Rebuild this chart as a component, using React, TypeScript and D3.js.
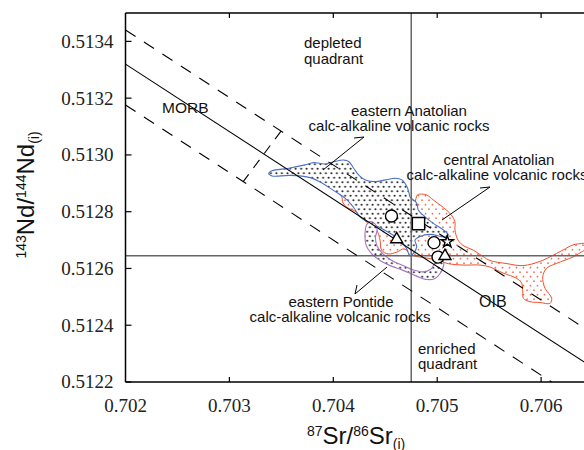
import React from "react";
import * as d3 from "d3";

// axis ticks
const srTicks = [0.702, 0.703, 0.704, 0.705, 0.706];
const ndTicks = [0.5122, 0.5124, 0.5126, 0.5128, 0.513, 0.5132, 0.5134];

// reference values: bulk earth Sr and CHUR Nd
const bulkEarthSr = 0.70475;
const churNd = 0.512645;

// mantle array with its two dashed bounds [Sr, Nd]
const mantleArray = [[0.702, 0.51332], [0.7065, 0.51225]];
const upperBound = [[0.702, 0.51344], [0.7065, 0.51237]];
const lowerBound = [[0.702, 0.513176], [0.7065, 0.512105]];
const crossBar = [[0.703497, 0.513084], [0.703131, 0.512905]];

// field outlines [Sr, Nd]
const centralAnatolian = [
  [0.704065, 0.512859], [0.704081, 0.512853], [0.704093, 0.512831], [0.704132, 0.512815],
  [0.704209, 0.512802], [0.704286, 0.512774], [0.704353, 0.512753], [0.704416, 0.512736],
  [0.70445, 0.5127], [0.704464, 0.512665], [0.704527, 0.512651], [0.704613, 0.512658],
  [0.704681, 0.512669], [0.704758, 0.512647], [0.704835, 0.51264], [0.704931, 0.512635],
  [0.705027, 0.512626], [0.705104, 0.512617], [0.705248, 0.512612], [0.705412, 0.512612],
  [0.705508, 0.512605], [0.705633, 0.512584], [0.705765, 0.512565], [0.705813, 0.512548],
  [0.705823, 0.512518], [0.705829, 0.512495], [0.705893, 0.512483], [0.70599, 0.51248],
  [0.706086, 0.512477], [0.706102, 0.512495], [0.706038, 0.51253], [0.706016, 0.512571],
  [0.706054, 0.512601], [0.70615, 0.512618], [0.70631, 0.512641], [0.706413, 0.512663],
  [0.70649, 0.512672], [0.70649, 0.512693], [0.706413, 0.512689], [0.706307, 0.512683],
  [0.706211, 0.512665], [0.706086, 0.512641], [0.70599, 0.512625], [0.705826, 0.51261],
  [0.705672, 0.512617], [0.705508, 0.512628], [0.705441, 0.512642], [0.705345, 0.512665],
  [0.705258, 0.512679], [0.7052, 0.5127], [0.705171, 0.512736], [0.705171, 0.512764],
  [0.705143, 0.512785], [0.705094, 0.512804], [0.705027, 0.512824], [0.704963, 0.512841],
  [0.704899, 0.512859], [0.704851, 0.512862], [0.704809, 0.512859], [0.704777, 0.512831],
  [0.704642, 0.512841], [0.70445, 0.512859], [0.704113, 0.512866],
];

const easternAnatolian = [
  [0.703378, 0.512935], [0.70341, 0.512944], [0.703571, 0.512953], [0.703728, 0.512965],
  [0.703811, 0.512973], [0.70392, 0.512968], [0.704004, 0.512976], [0.7041, 0.512982],
  [0.704151, 0.512976], [0.704196, 0.512953], [0.704245, 0.512929], [0.704308, 0.512912],
  [0.704404, 0.512906], [0.704501, 0.512912], [0.704597, 0.512918], [0.704661, 0.512912],
  [0.704709, 0.512888], [0.704729, 0.512866], [0.704738, 0.512852], [0.704803, 0.51283],
  [0.704818, 0.512806], [0.704883, 0.512782], [0.704963, 0.512759], [0.705059, 0.512736],
  [0.705107, 0.512718], [0.705075, 0.512711], [0.704931, 0.51272], [0.704835, 0.512713],
  [0.704786, 0.5127], [0.704803, 0.512677], [0.704767, 0.512651], [0.704738, 0.512644],
  [0.704707, 0.512669], [0.704642, 0.5127], [0.704546, 0.512724], [0.70443, 0.512747],
  [0.704324, 0.512765], [0.704257, 0.512782], [0.70419, 0.512818], [0.704113, 0.512848],
  [0.703997, 0.512876], [0.703891, 0.512901], [0.703776, 0.51292], [0.703583, 0.512928],
  [0.70341, 0.512926],
];

const easternPontide = [
  [0.704353, 0.512765], [0.70432, 0.512753], [0.704305, 0.512721], [0.704315, 0.512683],
  [0.704363, 0.512654], [0.70445, 0.512628], [0.704546, 0.51261], [0.704661, 0.512595],
  [0.704801, 0.512573], [0.704902, 0.512561], [0.704979, 0.512565], [0.705032, 0.512584],
  [0.705061, 0.512609], [0.705061, 0.512623], [0.705027, 0.512626], [0.704979, 0.512619],
  [0.70494, 0.512598], [0.704863, 0.512588], [0.704767, 0.512595], [0.704671, 0.51261],
  [0.704555, 0.51263], [0.704474, 0.512653], [0.704421, 0.512679], [0.704406, 0.512709],
  [0.704421, 0.512736], [0.704401, 0.512757],
];

// samples
const sampleSr = [0.70456, 0.70482, 0.70461, 0.704969, 0.705097, 0.705008, 0.705075];
const sampleNd = [0.512785, 0.512758, 0.512703, 0.512691, 0.512694, 0.51264, 0.512644];
const sampleShape = ["circle", "square", "triangle", "circle", "star", "circle", "triangle"];

const sans = "'Liberation Sans', Arial, sans-serif";
const serif = "'Liberation Serif', 'Times New Roman', serif";

export default function App() {
  const x = d3.scaleLinear().domain([0.702, 0.7065]).range([125.5, 593.05]);
  const y = d3.scaleLinear().domain([0.5122, 0.5135]).range([382, 13]);
  const [x0] = x.range();
  const [y0, y1] = y.range();

  const line = d3.line<number[]>().x((d) => x(d[0])).y((d) => y(d[1]));
  const field = d3
    .line<number[]>()
    .x((d) => x(d[0]))
    .y((d) => y(d[1]))
    .curve(d3.curveCatmullRomClosed.alpha(0.5));

  const symbolPath = (shape: string) => {
    if (shape === "square") return d3.symbol(d3.symbolSquare, 150)();
    if (shape === "triangle") return d3.symbol(d3.symbolTriangle, 62)();
    if (shape === "star") return d3.symbol(d3.symbolStar, 45)();
    return d3.symbol(d3.symbolCircle, 113)();
  };

  const dash = "12,10";

  return (
    <svg
      width={584}
      height={450}
      style={{ position: "absolute", left: 0, top: 0, background: "#fff" }}
    >
      <defs>
        <clipPath id="plot">
          <rect x={x0} y={y1} width={600} height={y0 - y1} />
        </clipPath>
        <pattern id="blackDots" width={5.5} height={9} patternUnits="userSpaceOnUse">
          <rect width={5.5} height={9} fill="#fff" />
          <circle cx={1.4} cy={2.2} r={1} fill="#222" />
          <circle cx={4.15} cy={6.7} r={1} fill="#222" />
        </pattern>
        <pattern id="redDots" width={7} height={9} patternUnits="userSpaceOnUse">
          <rect width={7} height={9} fill="#fff" />
          <circle cx={2} cy={2.2} r={0.85} fill="#f36a50" />
          <circle cx={5.5} cy={6.7} r={0.85} fill="#f36a50" />
        </pattern>
      </defs>

      <g clipPath="url(#plot)">
        <path d={field(centralAnatolian) || ""} fill="url(#redDots)" stroke="#f4502a" strokeWidth={1} />
        <path d={field(easternAnatolian) || ""} fill="url(#blackDots)" stroke="#4a72c8" strokeWidth={1.1} />
        <path d={field(easternPontide) || ""} fill="url(#blackDots)" stroke="#a874c4" strokeWidth={1.1} />

        <line x1={x(bulkEarthSr)} x2={x(bulkEarthSr)} y1={y0} y2={y1} stroke="#666" strokeWidth={1.5} />
        <line x1={x0} x2={600} y1={y(churNd)} y2={y(churNd)} stroke="#666" strokeWidth={1.5} />

        <path d={line(mantleArray) || ""} fill="none" stroke="#000" strokeWidth={1.1} />
        <path d={line(upperBound) || ""} fill="none" stroke="#000" strokeWidth={1.1} strokeDasharray={dash} />
        <path d={line(lowerBound) || ""} fill="none" stroke="#000" strokeWidth={1.1} strokeDasharray={dash} />
        <path d={line(crossBar) || ""} fill="none" stroke="#000" strokeWidth={1.1} strokeDasharray="10,8" />

        {sampleSr.map((sr, i) => (
          <path
            key={i}
            transform={`translate(${x(sr)},${y(sampleNd[i])})`}
            d={symbolPath(sampleShape[i]) || ""}
            fill="#fff"
            stroke="#000"
            strokeWidth={1.4}
          />
        ))}
      </g>

      {/* frame */}
      <g stroke="#000" strokeWidth={1.5} fill="none">
        <line x1={x0} x2={x0} y1={y0} y2={y1} />
        <line x1={x0} x2={600} y1={y0} y2={y0} />
        <line x1={x0} x2={600} y1={y1} y2={y1} />
        {srTicks.slice(1).map((t) => (
          <g key={t}>
            <line x1={x(t)} x2={x(t)} y1={y0} y2={y0 - 5} strokeWidth={1.2} />
            <line x1={x(t)} x2={x(t)} y1={y1} y2={y1 + 5} strokeWidth={1.2} />
          </g>
        ))}
        {ndTicks.map((t) => (
          <line key={t} x1={x0} x2={x0 + 6} y1={y(t)} y2={y(t)} strokeWidth={1.2} />
        ))}
      </g>

      {/* tick labels */}
      <g fontFamily={serif} fontSize={19} fill="#222">
        {srTicks.map((t) => (
          <text key={t} x={x(t)} y={412} textAnchor="middle">
            {d3.format(".3f")(t)}
          </text>
        ))}
        {ndTicks.map((t) => (
          <text key={t} x={x0 - 12} y={y(t)} dy="0.34em" textAnchor="end">
            {d3.format(".4f")(t)}
          </text>
        ))}
      </g>

      {/* axis titles */}
      <text x={307} y={444} fontFamily={sans} fontSize={24} fill="#111">
        <tspan fontSize={14} dy={-8}>87</tspan>
        <tspan dy={8}>Sr/</tspan>
        <tspan fontSize={14} dy={-8}>86</tspan>
        <tspan dy={8}>Sr</tspan>
        <tspan fontSize={14} dy={5}>(i)</tspan>
      </text>
      <text
        transform="translate(34,195) rotate(-90)"
        textAnchor="middle"
        fontFamily={sans}
        fontSize={24}
        fill="#111"
      >
        <tspan fontSize={14} dy={-8}>143</tspan>
        <tspan dy={8}>Nd/</tspan>
        <tspan fontSize={14} dy={-8}>144</tspan>
        <tspan dy={8}>Nd</tspan>
        <tspan fontSize={14} dy={5}>(i)</tspan>
      </text>

      {/* annotations */}
      <g fontFamily={sans} fontSize={15} fill="#111">
        <text x={304} y={48}>depleted</text>
        <text x={304} y={64}>quadrant</text>
        <text x={418} y={354}>enriched</text>
        <text x={418} y={369}>quadrant</text>
        <text x={162} y={113} fontSize={15.5}>MORB</text>
        <text x={479} y={307} fontSize={16}>OIB</text>
        <text x={409} y={116} textAnchor="middle">eastern Anatolian</text>
        <text x={399} y={131} textAnchor="middle">calc-alkaline volcanic rocks</text>
        <text x={499} y={165} textAnchor="middle">central Anatolian</text>
        <text x={497} y={180} textAnchor="middle">calc-alkaline volcanic rocks</text>
        <text x={341} y={307} textAnchor="middle">eastern Pontide</text>
        <text x={340} y={322} textAnchor="middle">calc-alkaline volcanic rocks</text>
      </g>

      {/* leader lines */}
      <g stroke="#000" strokeWidth={1} fill="none">
        <path d="M323,170 L364,137 M364,137 L354,138" />
        <path d="M442,220 L490,187 M490,187 L480,188" />
        <path d="M387,267 L355,294 M355,294 L357,285" />
      </g>
    </svg>
  );
}
